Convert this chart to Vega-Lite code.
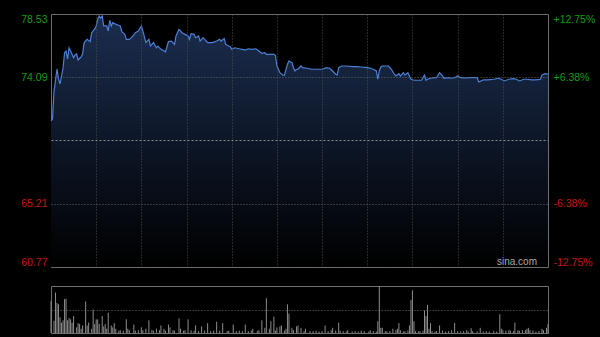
{
  "$schema": "https://vega.github.io/schema/vega-lite/v6.json",
  "background": "#000000",
  "autosize": {"type": "pad"},
  "padding": {"left": 20, "top": 13, "right": 5, "bottom": 5},
  "config": {
    "view": {"stroke": "#6e6e6e", "strokeWidth": 1},
    "axis": {"labelFont": "Liberation Sans", "labelFontSize": 10.5}
  },
  "datasets": {
    "price": [
      {"t":0,"p":71.02},{"t":1,"p":71.16},{"t":2,"p":73.12},{"t":4,"p":74.67},{"t":5,"p":73.97},{"t":6,"p":73.62},{"t":8,"p":74.74},{"t":9,"p":75.81},{"t":10,"p":75.93},{"t":11,"p":75.37},{"t":12,"p":76.14},{"t":13,"p":75.93},{"t":15,"p":75.46},{"t":16,"p":75.65},{"t":17,"p":75.72},{"t":18,"p":75.30},{"t":20,"p":75.51},{"t":21,"p":75.74},{"t":22,"p":76.52},{"t":24,"p":76.75},{"t":26,"p":76.59},{"t":27,"p":77.22},{"t":29,"p":77.46},{"t":30,"p":77.69},{"t":31,"p":78.16},{"t":32,"p":78.39},{"t":33,"p":78.23},{"t":34,"p":78.39},{"t":35,"p":77.69},{"t":37,"p":77.69},{"t":38,"p":77.34},{"t":39,"p":78.09},{"t":40,"p":77.69},{"t":41,"p":77.92},{"t":43,"p":77.81},{"t":46,"p":77.69},{"t":47,"p":77.29},{"t":49,"p":77.10},{"t":50,"p":76.75},{"t":52,"p":76.75},{"t":54,"p":76.92},{"t":56,"p":77.22},{"t":58,"p":77.34},{"t":60,"p":77.69},{"t":61,"p":77.34},{"t":63,"p":76.52},{"t":65,"p":76.75},{"t":66,"p":76.28},{"t":68,"p":76.52},{"t":70,"p":76.16},{"t":71,"p":76.28},{"t":73,"p":76.05},{"t":76,"p":75.88},{"t":78,"p":76.59},{"t":80,"p":76.63},{"t":82,"p":76.40},{"t":83,"p":76.99},{"t":85,"p":77.46},{"t":87,"p":77.22},{"t":89,"p":77.10},{"t":91,"p":76.99},{"t":92,"p":76.75},{"t":93,"p":77.15},{"t":95,"p":77.10},{"t":96,"p":76.87},{"t":98,"p":76.99},{"t":99,"p":76.63},{"t":101,"p":76.87},{"t":102,"p":76.75},{"t":104,"p":76.52},{"t":107,"p":76.52},{"t":109,"p":76.59},{"t":110,"p":76.63},{"t":112,"p":76.75},{"t":113,"p":76.63},{"t":115,"p":76.80},{"t":116,"p":76.40},{"t":118,"p":76.28},{"t":119,"p":76.23},{"t":120,"p":76.05},{"t":122,"p":76.16},{"t":125,"p":76.09},{"t":127,"p":76.05},{"t":129,"p":76.00},{"t":131,"p":76.09},{"t":133,"p":76.05},{"t":136,"p":76.09},{"t":138,"p":75.93},{"t":140,"p":75.77},{"t":142,"p":75.81},{"t":143,"p":75.70},{"t":146,"p":75.70},{"t":148,"p":75.70},{"t":149,"p":75.63},{"t":150,"p":74.88},{"t":151,"p":74.65},{"t":152,"p":74.41},{"t":154,"p":74.23},{"t":155,"p":74.23},{"t":157,"p":75.00},{"t":158,"p":75.23},{"t":160,"p":75.11},{"t":161,"p":74.76},{"t":162,"p":74.53},{"t":163,"p":74.65},{"t":164,"p":74.65},{"t":166,"p":74.88},{"t":167,"p":74.76},{"t":170,"p":74.72},{"t":173,"p":74.65},{"t":176,"p":74.65},{"t":180,"p":74.65},{"t":183,"p":74.76},{"t":185,"p":74.72},{"t":187,"p":74.53},{"t":189,"p":74.30},{"t":190,"p":74.25},{"t":191,"p":74.76},{"t":193,"p":74.88},{"t":196,"p":74.88},{"t":200,"p":74.83},{"t":203,"p":74.83},{"t":206,"p":74.81},{"t":210,"p":74.76},{"t":212,"p":74.72},{"t":214,"p":74.65},{"t":216,"p":74.53},{"t":217,"p":73.95},{"t":218,"p":74.53},{"t":219,"p":74.81},{"t":220,"p":74.88},{"t":224,"p":74.88},{"t":226,"p":74.65},{"t":228,"p":74.30},{"t":229,"p":74.18},{"t":231,"p":74.34},{"t":232,"p":74.18},{"t":234,"p":74.41},{"t":235,"p":74.25},{"t":237,"p":74.41},{"t":238,"p":74.18},{"t":239,"p":73.95},{"t":241,"p":73.88},{"t":244,"p":73.88},{"t":246,"p":73.88},{"t":248,"p":74.25},{"t":249,"p":73.88},{"t":250,"p":73.95},{"t":252,"p":74.02},{"t":255,"p":74.06},{"t":256,"p":74.06},{"t":258,"p":74.41},{"t":260,"p":74.18},{"t":261,"p":74.02},{"t":264,"p":74.06},{"t":266,"p":74.02},{"t":268,"p":74.06},{"t":270,"p":74.18},{"t":272,"p":74.06},{"t":274,"p":74.04},{"t":278,"p":74.06},{"t":283,"p":74.06},{"t":284,"p":73.76},{"t":287,"p":73.90},{"t":290,"p":73.90},{"t":294,"p":73.95},{"t":297,"p":74.02},{"t":299,"p":73.95},{"t":301,"p":73.83},{"t":304,"p":73.95},{"t":307,"p":73.99},{"t":309,"p":73.95},{"t":311,"p":73.83},{"t":314,"p":73.95},{"t":316,"p":73.95},{"t":319,"p":73.90},{"t":322,"p":73.90},{"t":325,"p":73.95},{"t":326,"p":74.25},{"t":328,"p":74.34},{"t":330,"p":74.30}
    ],
    "vol": [
      {"t":0,"v":68},{"t":2,"v":26},{"t":3,"v":86},{"t":4,"v":64},{"t":5,"v":61},{"t":6,"v":33},{"t":7,"v":22},{"t":8,"v":27},{"t":9,"v":72},{"t":10,"v":73},{"t":11,"v":27},{"t":12,"v":32},{"t":13,"v":29},{"t":14,"v":22},{"t":15,"v":36},{"t":17,"v":12},{"t":18,"v":21},{"t":19,"v":19},{"t":20,"v":9},{"t":21,"v":16},{"t":23,"v":67},{"t":24,"v":16},{"t":25,"v":22},{"t":27,"v":9},{"t":28,"v":50},{"t":29,"v":19},{"t":30,"v":29},{"t":31,"v":29},{"t":32,"v":19},{"t":34,"v":36},{"t":35,"v":14},{"t":36,"v":19},{"t":37,"v":9},{"t":38,"v":43},{"t":40,"v":16},{"t":41,"v":12},{"t":42,"v":21},{"t":43,"v":9},{"t":45,"v":5},{"t":46,"v":6},{"t":48,"v":5},{"t":50,"v":29},{"t":51,"v":9},{"t":52,"v":6},{"t":55,"v":18},{"t":56,"v":5},{"t":58,"v":6},{"t":60,"v":12},{"t":61,"v":6},{"t":63,"v":9},{"t":65,"v":27},{"t":67,"v":6},{"t":68,"v":5},{"t":70,"v":9},{"t":72,"v":6},{"t":73,"v":16},{"t":75,"v":9},{"t":76,"v":5},{"t":78,"v":18},{"t":79,"v":12},{"t":81,"v":6},{"t":82,"v":5},{"t":85,"v":31},{"t":86,"v":9},{"t":88,"v":5},{"t":89,"v":6},{"t":91,"v":29},{"t":93,"v":6},{"t":95,"v":5},{"t":96,"v":16},{"t":98,"v":4},{"t":100,"v":14},{"t":102,"v":5},{"t":104,"v":21},{"t":106,"v":4},{"t":108,"v":5},{"t":110,"v":24},{"t":112,"v":5},{"t":114,"v":21},{"t":117,"v":4},{"t":118,"v":5},{"t":121,"v":18},{"t":123,"v":4},{"t":125,"v":5},{"t":127,"v":4},{"t":129,"v":18},{"t":131,"v":4},{"t":133,"v":5},{"t":134,"v":9},{"t":137,"v":4},{"t":138,"v":6},{"t":140,"v":27},{"t":142,"v":11},{"t":143,"v":74},{"t":145,"v":9},{"t":146,"v":25},{"t":148,"v":35},{"t":149,"v":5},{"t":150,"v":12},{"t":152,"v":14},{"t":153,"v":16},{"t":155,"v":5},{"t":156,"v":9},{"t":157,"v":61},{"t":158,"v":41},{"t":160,"v":11},{"t":161,"v":6},{"t":163,"v":14},{"t":164,"v":16},
      {"t":166,"v":11},{"t":168,"v":4},{"t":169,"v":9},{"t":172,"v":4},{"t":174,"v":4},{"t":176,"v":5},{"t":178,"v":3},{"t":180,"v":4},{"t":182,"v":16},{"t":184,"v":4},{"t":186,"v":6},{"t":187,"v":11},{"t":189,"v":5},{"t":191,"v":22},{"t":192,"v":5},{"t":194,"v":4},{"t":196,"v":3},{"t":197,"v":6},{"t":200,"v":3},{"t":202,"v":4},{"t":204,"v":3},{"t":206,"v":5},{"t":208,"v":4},{"t":211,"v":3},{"t":212,"v":6},{"t":214,"v":4},{"t":216,"v":3},{"t":217,"v":25},{"t":218,"v":100},{"t":219,"v":11},{"t":220,"v":11},{"t":222,"v":4},{"t":223,"v":3},{"t":225,"v":4},{"t":227,"v":9},{"t":229,"v":6},{"t":230,"v":9},{"t":231,"v":21},{"t":232,"v":6},{"t":234,"v":3},{"t":235,"v":4},{"t":237,"v":5},{"t":238,"v":16},{"t":239,"v":70},{"t":240,"v":91},{"t":241,"v":25},{"t":242,"v":4},{"t":244,"v":3},{"t":245,"v":4},{"t":247,"v":5},{"t":248,"v":48},{"t":249,"v":36},{"t":250,"v":60},{"t":251,"v":9},{"t":252,"v":21},{"t":253,"v":4},{"t":255,"v":3},{"t":256,"v":4},{"t":258,"v":16},{"t":260,"v":5},{"t":262,"v":3},{"t":264,"v":4},{"t":266,"v":6},{"t":268,"v":21},{"t":270,"v":4},{"t":272,"v":3},{"t":274,"v":4},{"t":276,"v":6},{"t":277,"v":3},{"t":279,"v":10},{"t":280,"v":4},{"t":283,"v":3},{"t":285,"v":11},{"t":287,"v":3},{"t":289,"v":4},{"t":291,"v":3},{"t":294,"v":4},{"t":296,"v":3},{"t":298,"v":40},{"t":299,"v":9},{"t":300,"v":6},{"t":302,"v":5},{"t":304,"v":6},{"t":305,"v":5},{"t":307,"v":4},{"t":308,"v":22},{"t":310,"v":6},{"t":311,"v":5},{"t":313,"v":6},{"t":315,"v":6},{"t":316,"v":9},{"t":317,"v":11},{"t":318,"v":6},{"t":320,"v":5},{"t":322,"v":3},{"t":324,"v":4},{"t":326,"v":9},{"t":327,"v":6},{"t":329,"v":11},{"t":330,"v":19}
    ]
  },
  "spacing": 19,
  "bounds": "flush",
  "vconcat": [
    {
      "width": 497,
      "height": 253,
      "layer": [
        {
          "data": {"name": "price"},
          "mark": {
            "type": "area",
            "color": {"gradient": "linear", "x1": 0, "y1": 0, "x2": 0, "y2": 1,
              "stops": [{"offset": 0, "color": "#1b2d4f"}, {"offset": 1, "color": "#000000"}]}
          },
          "encoding": {
            "x": {"field": "t", "type": "quantitative",
              "scale": {"domain": [0, 330], "nice": false, "zero": false},
              "axis": {"title": null, "labels": false, "ticks": false, "domain": false, "grid": true, "zindex": 1,
                "values": [30, 60, 90, 120, 150, 180, 210, 240, 270, 300],
                "gridColor": "#4e4e4e", "gridDash": [1, 2]}},
            "y": {"field": "p", "type": "quantitative",
              "scale": {"domain": [60.77, 78.53], "nice": false, "zero": false},
              "axis": {"title": null, "values": [60.77, 65.21, 69.65, 74.09, 78.53], "zindex": 1,
                "labelExpr": "abs(datum.value-69.65)<0.01 ? '' : format(datum.value,'.2f')",
                "labelColor": {"condition": {"test": "datum.value > 69.7", "value": "#129c12"}, "value": "#c81410"},
                "ticks": false, "domain": false, "labelPadding": 4, "labelFlush": true,
                "grid": true,
                "gridColor": {"condition": {"test": "abs(datum.value-69.65)<0.01", "value": "#8a8a8a"}, "value": "#666666"},
                "gridDash": {"condition": {"test": "abs(datum.value-69.65)<0.01", "value": [2, 2]}, "value": [1, 2]}}},
            "y2": {"datum": 60.77}
          }
        },
        {
          "data": {"name": "price"},
          "mark": {"type": "line", "color": "#4b80d6", "strokeWidth": 1.2},
          "encoding": {
            "x": {"field": "t", "type": "quantitative"},
            "y": {"field": "p", "type": "quantitative",
              "axis": {"orient": "right", "title": null, "values": [60.77, 65.21, 69.65, 74.09, 78.53],
                "labelExpr": "datum.value > 78 ? '+12.75%' : datum.value > 74 ? '+6.38%' : datum.value > 69 ? '' : datum.value > 65 ? '-6.38%' : '-12.75%'",
                "labelColor": {"condition": {"test": "datum.value > 69.7", "value": "#129c12"}, "value": "#c81410"},
                "ticks": false, "domain": false, "grid": false, "labelPadding": 5, "labelFlush": true}}
          }
        },
        {
          "data": {"values": [{}]},
          "mark": {"type": "text", "align": "right", "baseline": "alphabetic", "dx": -11, "dy": -2,
            "color": "#a8a8a8", "font": "Liberation Sans", "fontSize": 10},
          "encoding": {
            "x": {"datum": 330, "type": "quantitative"},
            "y": {"datum": 60.77, "type": "quantitative", "axis": null},
            "text": {"value": "sina.com"}
          }
        }
      ],
      "resolve": {"axis": {"y": "independent"}}
    },
    {
      "width": 497,
      "height": 47,
      "data": {"name": "vol"},
      "mark": {"type": "rule", "color": "#8c8c8c", "strokeWidth": 1},
      "encoding": {
        "x": {"field": "t", "type": "quantitative",
          "scale": {"domain": [0, 330], "nice": false, "zero": false}, "axis": null},
        "y": {"field": "v", "type": "quantitative",
          "scale": {"domain": [0, 100], "nice": false},
          "axis": {"title": null, "labels": false, "ticks": false, "domain": false, "grid": true,
            "values": [50], "gridColor": "#6a6a6a", "gridDash": [1, 2]}},
        "y2": {"datum": 0}
      }
    }
  ]
}
